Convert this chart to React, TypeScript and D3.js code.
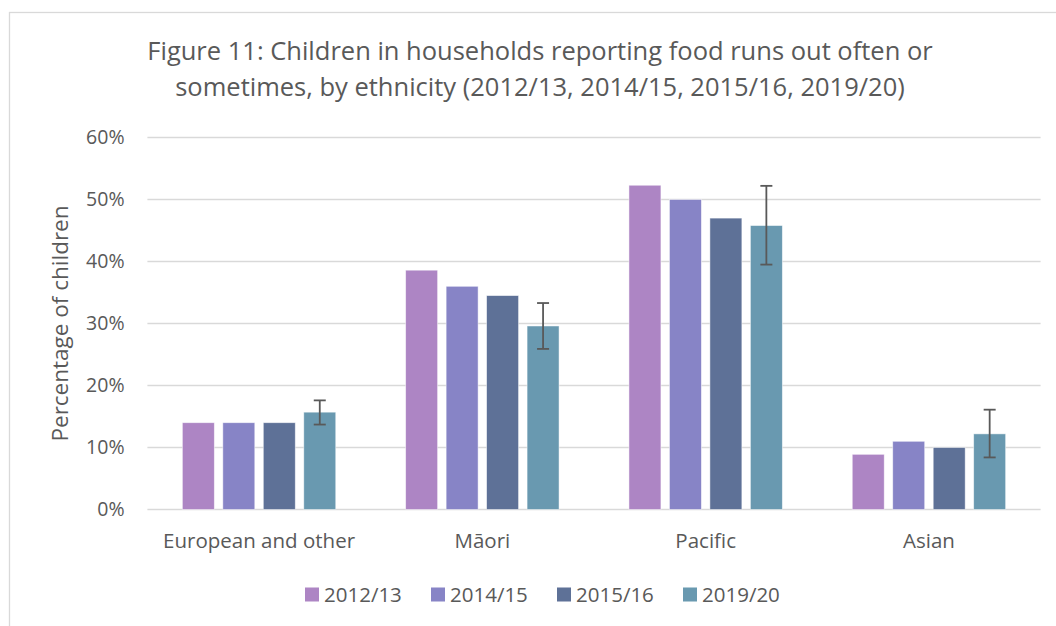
import React from 'react';
import * as d3 from 'd3';

const categories = ['European and other', 'Māori', 'Pacific', 'Asian'];
const series = ['2012/13', '2014/15', '2015/16', '2019/20'];
const colors = ['#ad85c4', '#8784c6', '#5e7197', '#6999b0'];

// values per series, in category order (percent)
const v2012 = [14.0, 38.6, 52.3, 8.9];
const v2014 = [14.0, 36.0, 50.0, 11.0];
const v2015 = [14.0, 34.5, 47.0, 10.0];
const v2019 = [15.7, 29.6, 45.8, 12.2];
const values = [v2012, v2014, v2015, v2019];

// 95% CI for 2019/20 only
const ciLow = [13.7, 25.9, 39.5, 8.4];
const ciHigh = [17.6, 33.3, 52.2, 16.1];

const yTicks = [0, 10, 20, 30, 40, 50, 60];

const titleLines = [
  'Figure 11: Children in households reporting food runs out often or',
  'sometimes, by ethnicity (2012/13, 2014/15, 2015/16, 2019/20)',
];

const W = 1056;
const H = 626;
const FONT = '"Open Sans", sans-serif';
const TEXT = '#595959';

const App: React.FC = () => {
  const plot = { left: 147.4, right: 1040.6, top: 137.5, bottom: 509.5 };

  const y = d3.scaleLinear().domain([0, 60]).range([plot.bottom, plot.top]);

  const x0 = d3.scaleBand<string>()
    .domain(categories)
    .range([plot.left, plot.right])
    .paddingInner(0.313)
    .paddingOuter(0.1565);

  const x1 = d3.scaleBand<string>()
    .domain(series)
    .range([0, x0.bandwidth()])
    .paddingInner(0.21);

  const capW = 12;
  const legendX = d3.scaleBand<string>().domain(series).range([305, 809]);

  return (
    <svg
      width={W}
      height={H}
      viewBox={`0 0 ${W} ${H}`}
      style={{ position: 'absolute', left: 0, top: 0, background: '#fff' }}
    >
      <rect x={9.5} y={12.5} width={1070} height={640} fill="#fff" stroke="#d9d9d9" strokeWidth={1.3} />

      {/* Title */}
      {titleLines.map((t, i) => (
        <text
          key={i}
          x={540}
          y={60 + i * 36}
          textAnchor="middle"
          fontFamily={FONT}
          fontSize={25.5}
          fill={TEXT}
        >
          {t}
        </text>
      ))}

      {/* Gridlines + y tick labels */}
      {yTicks.map((t) => (
        <g key={t}>
          <line
            x1={plot.left}
            x2={plot.right}
            y1={y(t)}
            y2={y(t)}
            stroke="#d9d9d9"
            strokeWidth={1.5}
          />
          <text
            x={124.5}
            y={y(t)}
            dy="0.35em"
            textAnchor="end"
            fontFamily={FONT}
            fontSize={19.5}
            fill={TEXT}
          >
            {t}%
          </text>
        </g>
      ))}

      {/* Y axis title */}
      <text
        transform={`translate(${60},${(plot.top + plot.bottom) / 2}) rotate(-90)`}
        textAnchor="middle"
        dy="0.35em"
        fontFamily={FONT}
        fontSize={22.5}
        fill={TEXT}
      >
        Percentage of children
      </text>

      {/* Bars */}
      {categories.map((c, ci) => (
        <g key={c} transform={`translate(${x0(c)},0)`}>
          {series.map((s, si) => (
            <rect
              key={s}
              x={x1(s)}
              y={y(values[si][ci])}
              width={x1.bandwidth()}
              height={y(0) - y(values[si][ci])}
              fill={colors[si]}
              stroke="#ffffff"
              strokeOpacity={0.6}
              strokeWidth={0.8}
            />
          ))}
          {/* error bar on 2019/20 */}
          {(() => {
            const cx = (x1('2019/20') || 0) + x1.bandwidth() / 2;
            return (
              <g stroke="#595959" strokeWidth={1.8}>
                <line x1={cx} x2={cx} y1={y(ciLow[ci])} y2={y(ciHigh[ci])} />
                <line x1={cx - capW / 2} x2={cx + capW / 2} y1={y(ciLow[ci])} y2={y(ciLow[ci])} />
                <line x1={cx - capW / 2} x2={cx + capW / 2} y1={y(ciHigh[ci])} y2={y(ciHigh[ci])} />
              </g>
            );
          })()}
          <text
            x={x0.bandwidth() / 2}
            y={plot.bottom + 38.5}
            textAnchor="middle"
            fontFamily={FONT}
            fontSize={20.5}
            fill={TEXT}
          >
            {c}
          </text>
        </g>
      ))}

      {/* Legend */}
      {series.map((s, i) => (
        <g key={s} transform={`translate(${legendX(s)},${594.5})`}>
          <rect x={0} y={-7} width={14} height={14} fill={colors[i]} />
          <text x={19} y={0} dy="0.35em" fontFamily={FONT} fontSize={20.5} fill={TEXT}>
            {s}
          </text>
        </g>
      ))}
    </svg>
  );
};

export default App;
